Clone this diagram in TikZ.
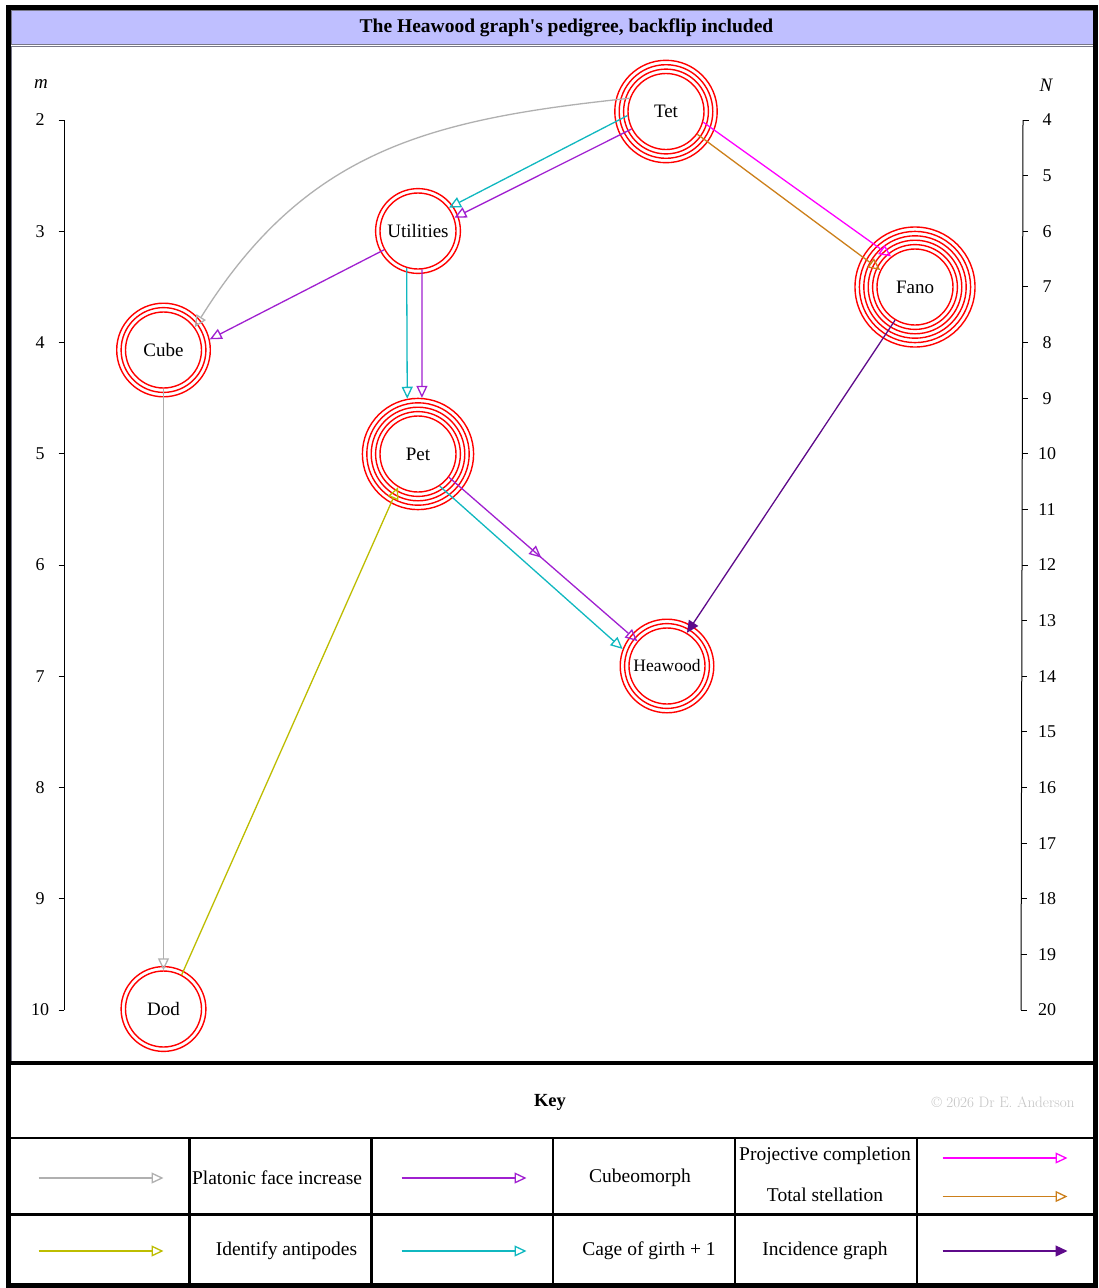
\documentclass[tikz,border=0pt]{standalone}
\usepackage{fontspec}
\newfontfamily\serif{Liberation Serif}
\usetikzlibrary{arrows.meta,decorations.markings}

\definecolor{platonic}{HTML}{B0B0B0}
\definecolor{cubeo}{HTML}{A020D0}
\definecolor{projc}{HTML}{FF00FF}
\definecolor{stell}{HTML}{CC7F1A}
\definecolor{antip}{HTML}{BDBD00}
\definecolor{cage}{HTML}{10B8C0}
\definecolor{incid}{HTML}{5E0A8A}
\definecolor{titlebg}{HTML}{BFBFFF}
\definecolor{cellgray}{HTML}{777788}
\definecolor{copygray}{HTML}{C4C4C4}

\tikzset{
  vtx/.style={circle, draw=red, line width=1.4pt, minimum size=76pt, inner sep=0pt,
              font=\serif\fontsize{19}{22}\selectfont},
  halo/.style={circle, draw=red, line width=1.4pt, inner sep=0pt},
  ringline/.style={draw=red, line width=1.4pt},
  edge/.style={line width=1.3pt, -{Triangle[open, length=12pt, width=11pt]}},
  solidedge/.style={line width=1.3pt, -{Triangle[length=12pt, width=11pt]}},
  axisline/.style={line width=1pt, black},
  axlab/.style={font=\serif\fontsize{18}{20}\selectfont, inner sep=0pt},
  keytext/.style={font=\serif\fontsize{19.5}{22}\selectfont, inner sep=0pt},
  keyrule/.style={line width=2.2pt, black},
}

\begin{document}
\begin{tikzpicture}[x=1pt, y=-1pt]
\useasboundingbox (0,0) rectangle (1099,1288);
\fill[white] (0,0) rectangle (1099,1288);

% ---------- frame ----------
\fill[titlebg] (11,10) rectangle (1093,44.5);
\draw[cellgray, line width=0.8pt] (11,10) rectangle (1093,44.5);
\draw[cellgray, line width=0.8pt] (11,46) rectangle (1093,1061);
\draw[black, line width=4.5pt] (8,1063) -- (1095,1063);
\draw[black, line width=5pt] (8,7) rectangle (1095,1285);

\node[font=\serif\bfseries\fontsize{19.5}{22}\selectfont, inner sep=0pt] (title) at (566.5,27.5)
  {The Heawood graph's pedigree, backflip included};

% ---------- axes ----------
\node[axlab, font=\serif\itshape\fontsize{19}{21}\selectfont] (mlabel) at (41,84) {m};
\draw[axisline] (64,120) -- (64,1010);
\foreach \m in {2,...,10} {
  \pgfmathsetmacro\yy{120+(\m-2)*111.25}
  \draw[axisline] (58.5,\yy) -- (64,\yy);
  \node[axlab] (m\m) at (40,\yy) {\m};
}

\node[axlab, font=\serif\itshape\fontsize{19}{21}\selectfont] (nlabel) at (1046,85) {N};
\draw[axisline] (1023,120) -- (1021,1010);
\foreach \n in {4,...,20} {
  \pgfmathsetmacro\yy{120+(\n-4)*55.625}
  \pgfmathsetmacro\xx{1023-2*(\n-4)/16}
  \draw[axisline] (\xx,\yy) -- ({\xx+5.5},\yy);
  \node[axlab] (n\n) at (1047,\yy) {\n};
}

% ---------- vertices with their rings ----------
\node[vtx] (tet)  at (666,111.5) {Tet};
\node[vtx] (util) at (418,231)   {Utilities};
\node[vtx] (fano) at (915,287)   {Fano};
\node[vtx] (cube) at (163.5,350) {Cube};
\node[vtx] (pet)  at (418,454)   {Pet};
\node[vtx] (heaw) at (667,666)   {\fontsize{17.5}{20}\selectfont Heawood};
\node[vtx] (dod)  at (163.5,1009){Dod};

\foreach \r in {42.4,46.8} \draw[ringline] (tet) circle (\r pt);
\node[halo, minimum size=102.4pt] (tetO) at (tet) {};
\node[halo, minimum size=84.8pt] (utilO) at (util) {};
\foreach \r in {42.4,46.8,51.2,55.6} \draw[ringline] (fano) circle (\r pt);
\node[halo, minimum size=120pt] (fanoO) at (fano) {};
\foreach \r in {42.4} \draw[ringline] (cube) circle (\r pt);
\node[halo, minimum size=93.6pt] (cubeO) at (cube) {};
\foreach \r in {42.4,46.8,51.2} \draw[ringline] (pet) circle (\r pt);
\node[halo, minimum size=111.2pt] (petO) at (pet) {};
\foreach \r in {42.4} \draw[ringline] (heaw) circle (\r pt);
\node[halo, minimum size=93.6pt] (heawO) at (heaw) {};
\node[halo, minimum size=84.8pt] (dodO) at (dod) {};

% ---------- connectors ----------
% Platonic face increase
\draw[edge, platonic] (tet.160) .. controls +(-199,20.9) and +(111.3,-178.1) .. (cube.36);
\draw[edge, platonic] (cube.270) -- (dod.90);
% Cage of girth + 1 and cubeomorph, Tet to Utilities
\draw[edge, cage]  (tet.186) -- (util.37);
\draw[edge, cubeo] (tet.207) -- (util.20);
% Utilities to Cube
\draw[edge, cubeo] (util.209) -- (cubeO.13);
% Utilities to Pet
\draw[edge, cage]  (util.253) -- (petO.101);
\draw[edge, cubeo] (util.276) -- (petO.86);
% Tet to Fano
\draw[edge, projc] (tet.344) -- (fano.128);
\draw[edge, stell] (tet.324) -- (fano.154);
% Fano to Heawood
\draw[solidedge, incid] (fano.239) -- (heaw.59);
% Pet to Heawood
\draw[edge, cubeo, postaction={decorate, decoration={markings,
      mark=at position 0.49 with {\arrow{Triangle[open, length=12pt, width=11pt]}}}}]
      (pet.323) -- (heaw.140);
\draw[edge, cage] (pet.304) -- (heawO.159);
% Identify antipodes
\draw[edge, antip] (dod.62) -- (pet.239);

% ---------- key ----------
\node[font=\serif\bfseries\fontsize{18.5}{21}\selectfont, inner sep=0pt] (keytitle) at (550,1102) {Key};
\node[font=\fontsize{15.1}{17}\selectfont, text=copygray, inner sep=0pt] (copy) at (1003,1102)
  {\textcopyright{} 2026 Dr E. Anderson};

\draw[keyrule] (10,1138) -- (1093,1138);
\draw[keyrule] (10,1214.5) -- (1093,1214.5);
\foreach \cx in {189.5,371.5,553,735,917}
  \draw[keyrule] (\cx,1138) -- (\cx,1283);

\coordinate (ka1) at (38.5,1178);   \coordinate (kb1) at (163.5,1178);
\coordinate (ka2) at (401.5,1178);  \coordinate (kb2) at (526.5,1178);
\coordinate (ka3) at (942.5,1158);  \coordinate (kb3) at (1067.5,1158);
\coordinate (ka4) at (942.5,1196.5);\coordinate (kb4) at (1067.5,1196.5);
\coordinate (ka5) at (38.5,1251);   \coordinate (kb5) at (163.5,1251);
\coordinate (ka6) at (401.5,1251);  \coordinate (kb6) at (526.5,1251);
\coordinate (ka7) at (942.5,1251);  \coordinate (kb7) at (1067.5,1251);

\draw[edge, platonic] (ka1) -- (kb1);
\draw[edge, cubeo]    (ka2) -- (kb2);
\draw[edge, projc]    (ka3) -- (kb3);
\draw[edge, stell]    (ka4) -- (kb4);
\draw[edge, antip]    (ka5) -- (kb5);
\draw[edge, cage]     (ka6) -- (kb6);
\draw[solidedge, incid] (ka7) -- (kb7);

\node[keytext] (k1) at (277,1178) {Platonic face increase};
\node[keytext] (k2) at (640,1178) {Cubeomorph};
\node[keytext] (k3) at (825,1156) {Projective completion};
\node[keytext] (k4) at (825,1194.5) {Total stellation};
\node[keytext] (k5) at (286.5,1251) {Identify antipodes};
\node[keytext] (k6) at (649,1251) {Cage of girth + 1};
\node[keytext] (k7) at (825,1251) {Incidence graph};
\end{tikzpicture}
\end{document}
